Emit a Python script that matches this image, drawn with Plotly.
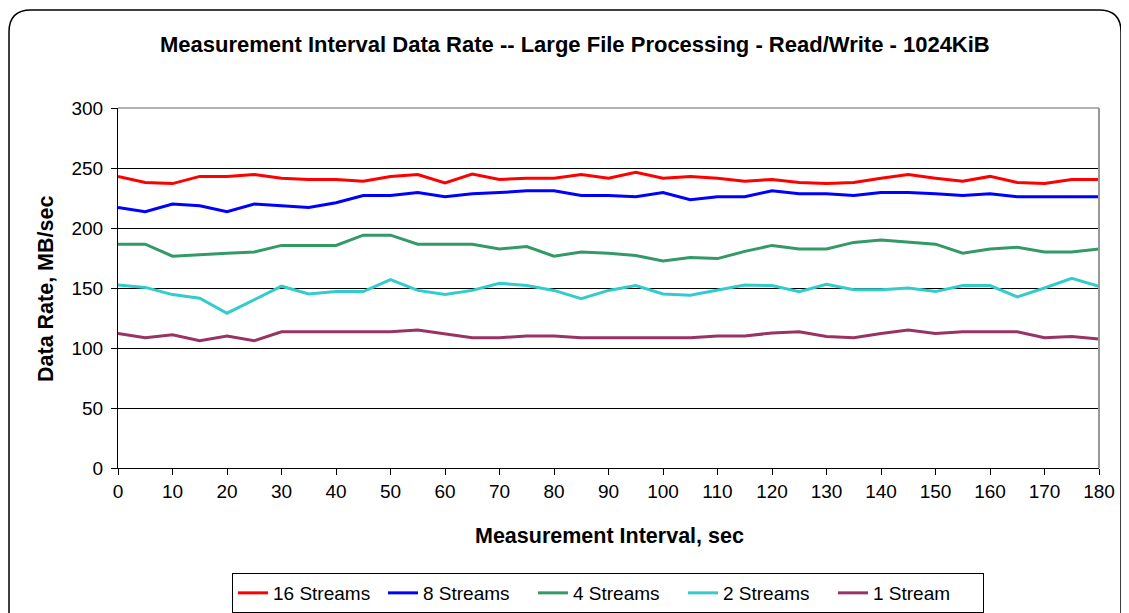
import plotly.graph_objects as go

x_sec = list(range(0, 181, 5))

streams_16 = [243, 238, 237, 243, 243, 244.5, 241.5, 240.5, 240.5, 239, 243, 244.5, 237.5,
              245, 240.5, 241.5, 241.5, 244.5, 241.5, 246.5, 241.5, 243, 241.5, 239, 240.5,
              238, 237, 238, 241.5, 244.5, 241.5, 239, 243, 238, 237, 240.5, 240.5]
streams_8 = [217, 213.5, 220, 218.5, 213.5, 220, 218.5, 217, 221, 227, 227, 229.5, 226,
             228.5, 229.5, 231, 231, 227, 227, 226, 229.5, 223.5, 226, 226, 231,
             228.5, 228.5, 227, 229.5, 229.5, 228.5, 227, 228.5, 226, 226, 226, 226]
streams_4 = [186.5, 186.5, 176.5, 178, 179, 180, 185.5, 185.5, 185.5, 194, 194, 186.5, 186.5,
             186.5, 182.5, 184.5, 176.5, 180, 179, 177, 172.5, 175.5, 174.5, 180.5, 185.5,
             182.5, 182.5, 188, 190, 188, 186.5, 179, 182.5, 184, 180, 180, 182.5]
streams_2 = [152.5, 150.5, 144.5, 141.5, 129, 140, 151.5, 145, 147, 147, 157, 148, 144.5,
             148, 154, 152, 148, 141, 148, 152, 145, 144, 148.5, 152.5, 152,
             147, 153, 148.5, 148.5, 150, 147, 152, 152, 142.5, 150, 158, 151.5]
streams_1 = [112, 108.5, 111, 106, 110, 106, 113.5, 113.5, 113.5, 113.5, 113.5, 115, 111.5,
             108.5, 108.5, 110, 110, 108.5, 108.5, 108.5, 108.5, 108.5, 110, 110, 112.5,
             113.5, 109.5, 108.5, 112, 115, 112, 113.5, 113.5, 113.5, 108.5, 109.5, 107.5]

series_names = ["16 Streams", "8 Streams", "4 Streams", "2 Streams", "1 Stream"]
series_vals = [streams_16, streams_8, streams_4, streams_2, streams_1]
series_colors = ["#FF0000", "#0000FF", "#339966", "#33CCCC", "#993366"]

y_ticks = [0, 50, 100, 150, 200, 250, 300]
x_ticks = list(range(0, 181, 10))

# page has an 8px body margin; work in page pixels and convert
OFF = 8
W, H = 1129 - OFF, 613 - OFF
L, R, T, B = 118 - OFF, 1099 - OFF, 108 - OFF, 468 - OFF

fig = go.Figure()
for name, vals, col in zip(series_names, series_vals, series_colors):
    fig.add_trace(go.Scatter(x=x_sec, y=vals, mode="lines", name=name,
                             line=dict(color=col, width=3)))

def px(Xpage):
    return (Xpage - OFF - L) / (R - L)

def py(Ypage):
    return (B - (Ypage - OFF)) / (B - T)

# outer rounded border (page pixel coordinates)
x0, x1, y0, y1, r = 9, 1121, 10, 640, 22
path = (f"M {px(x0+r)},{py(y0)} L {px(x1-r)},{py(y0)} Q {px(x1)},{py(y0)} {px(x1)},{py(y0+r)} "
        f"L {px(x1)},{py(y1-r)} Q {px(x1)},{py(y1)} {px(x1-r)},{py(y1)} "
        f"L {px(x0+r)},{py(y1)} Q {px(x0)},{py(y1)} {px(x0)},{py(y1-r)} "
        f"L {px(x0)},{py(y0+r)} Q {px(x0)},{py(y0)} {px(x0+r)},{py(y0)} Z")

fig.update_layout(
    width=W, height=H,
    margin=dict(l=L, r=W - R, t=T, b=H - B, autoexpand=False),
    paper_bgcolor="white", plot_bgcolor="white",
    font=dict(family="Liberation Sans, Arial, sans-serif", size=19, color="black"),
    showlegend=True,
    legend=dict(orientation="h", xref="container", yref="container",
                x=(608 - OFF) / W, xanchor="center", y=1 - (573 - OFF) / H, yanchor="top",
                bordercolor="black", borderwidth=1, bgcolor="white",
                font=dict(size=19), itemwidth=30, tracegroupgap=0,
                entrywidth=105, entrywidthmode="pixels"),
    shapes=[
        dict(type="path", xref="paper", yref="paper", path=path,
             line=dict(color="black", width=1.5), layer="below"),
        dict(type="line", xref="paper", yref="paper", x0=1, x1=1, y0=0, y1=1,
             line=dict(color="#999999", width=2)),
        dict(type="line", xref="paper", yref="paper", x0=0, x1=1, y0=1, y1=1,
             line=dict(color="#999999", width=1.5)),
    ],
    annotations=[
        dict(text="<b>Measurement Interval Data Rate -- Large File Processing - Read/Write - 1024KiB</b>",
             xref="paper", yref="paper", x=px(575), y=py(45), showarrow=False,
             font=dict(size=22), xanchor="center", yanchor="middle"),
        dict(text="<b>Measurement Interval, sec</b>", xref="paper", yref="paper",
             x=px(609), y=py(536), showarrow=False, font=dict(size=21.5),
             xanchor="center", yanchor="middle"),
        dict(text="<b>Data Rate, MB/sec</b>", xref="paper", yref="paper",
             x=px(46), y=py(289), showarrow=False, font=dict(size=21.5), textangle=-90,
             xanchor="center", yanchor="middle"),
    ],
)
fig.update_xaxes(range=[0, 180], tickvals=x_ticks, ticks="outside", ticklen=6,
                 tickcolor="black", showline=True, linecolor="black", linewidth=1,
                 showgrid=False, zeroline=False, tickfont=dict(size=19), ticklabelstandoff=0)
fig.update_yaxes(range=[0, 300], tickvals=y_ticks, ticks="outside", ticklen=6,
                 tickcolor="black", showline=True, linecolor="black", linewidth=1,
                 showgrid=True, gridcolor="black", gridwidth=1, zeroline=False,
                 tickfont=dict(size=19), ticklabelstandoff=4)

fig.write_html("out.html")
